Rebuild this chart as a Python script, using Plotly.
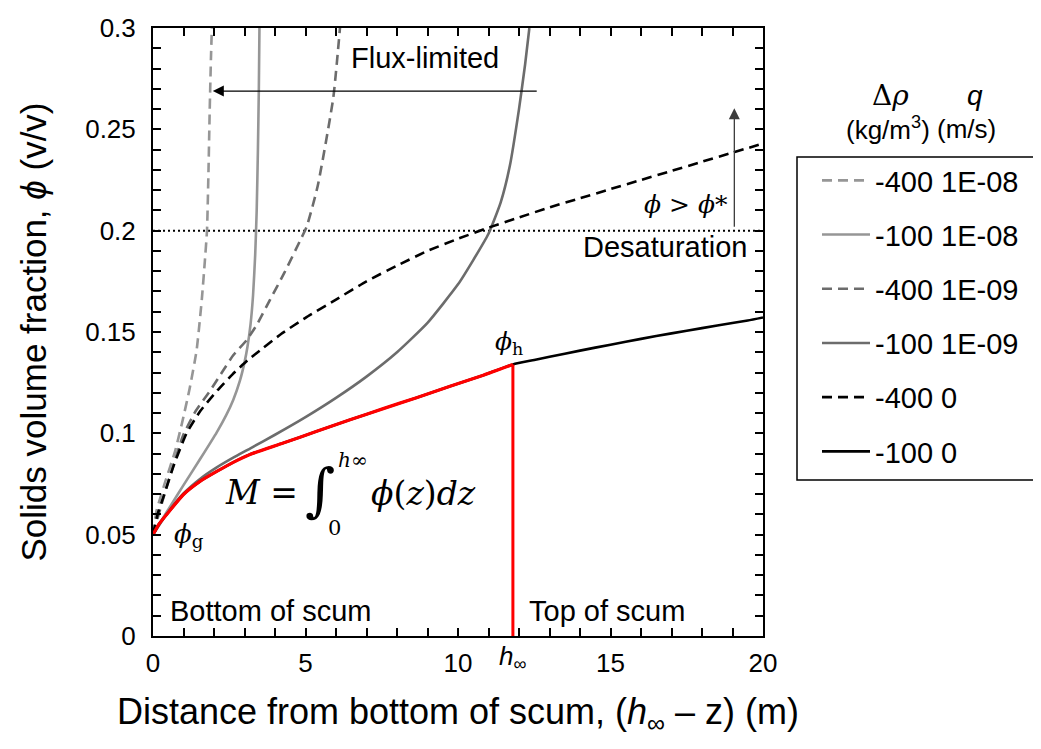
import plotly.graph_objects as go

# ---------------- data ----------------
# -100 kg/m3, q = 0  (black solid; red part up to h_inf)
x_m100_q0 = [0, 0.2, 0.45, 0.99, 1.54, 2.09, 2.63, 3.18, 4.27, 5.37, 6.46, 7.55, 8.64,
             9.74, 10.83, 11.8, 12.5, 13.5, 14.5, 15.5, 16.5, 17.5, 18.5, 19.5, 20]
y_m100_q0 = [0.05, 0.0553, 0.0600, 0.0697, 0.0763, 0.0812, 0.0857, 0.0896, 0.0952, 0.1010,
             0.1067, 0.1122, 0.1176, 0.1232, 0.1287, 0.1340, 0.1362, 0.1393, 0.1423, 0.1452,
             0.1480, 0.1506, 0.1532, 0.1557, 0.1572]

# -400 kg/m3, q = 0  (black dashed)
x_m400_q0 = [0, 0.15, 0.35, 0.7, 1.1, 1.55, 2.1, 2.6, 3.1, 3.6, 4.2, 5.0, 6.0, 7.0, 8.1,
             9.0, 10.0, 11.0, 12.0, 13.0, 14.0, 15.0, 16.0, 17.0, 18.0, 19.0, 20.0]
y_m400_q0 = [0.05, 0.060, 0.069, 0.085, 0.100, 0.111, 0.121, 0.129, 0.136, 0.142, 0.149,
             0.157, 0.166, 0.175, 0.1835, 0.190, 0.196, 0.2015, 0.2065, 0.2115, 0.216,
             0.2205, 0.225, 0.2295, 0.234, 0.2385, 0.2430]

# -100 kg/m3, q = 1E-09  (dark grey solid)
x_m100_q9 = [0, 0.45, 0.99, 1.54, 2.09, 2.63, 3.18, 4.0, 5.0, 6.0, 7.0, 8.0, 9.0, 10.0,
             10.5, 11.0, 11.4, 11.7, 12.0, 12.2, 12.34]
y_m100_q9 = [0.05, 0.0602, 0.0702, 0.0775, 0.0832, 0.0880, 0.0925, 0.0993, 0.1080, 0.1175,
             0.1280, 0.1400, 0.1545, 0.1735, 0.1855, 0.1985, 0.2140, 0.2320, 0.2600, 0.2820,
             0.3000]

# -400 kg/m3, q = 1E-09  (dark grey dashed)
x_m400_q9 = [0, 0.3, 0.6, 0.99, 1.4, 1.87, 2.3, 2.63, 3.07, 3.4, 3.84, 4.3, 4.82, 5.04,
             5.4, 5.91, 6.13]
y_m400_q9 = [0.05, 0.066, 0.081, 0.099, 0.111, 0.121, 0.131, 0.1385, 0.146, 0.1535, 0.166,
             0.179, 0.195, 0.202, 0.222, 0.2655, 0.300]

# -100 kg/m3, q = 1E-08  (light grey solid)
x_m100_q8 = [0, 0.3, 0.6, 0.99, 1.54, 2.09, 2.4, 2.63, 2.85, 3.0, 3.1, 3.2, 3.28, 3.35,
             3.40, 3.44, 3.47, 3.49]
y_m100_q8 = [0.05, 0.0575, 0.0648, 0.0742, 0.0872, 0.1005, 0.1090, 0.1165, 0.1260, 0.1350,
             0.1430, 0.1540, 0.1680, 0.1880, 0.2100, 0.2400, 0.2700, 0.3000]

# -400 kg/m3, q = 1E-08  (light grey dashed)
x_m400_q8 = [0, 0.12, 0.4, 0.72, 0.95, 1.2, 1.43, 1.6, 1.7, 1.77, 1.82, 1.86, 1.9, 1.93]
y_m400_q8 = [0.05, 0.062, 0.076, 0.091, 0.105, 0.122, 0.141, 0.166, 0.185, 0.200, 0.230,
             0.260, 0.285, 0.300]

legend_names = ["-400 1E-08", "-100 1E-08", "-400 1E-09", "-100 1E-09", "-400 0", "-100 0"]

h_inf = 11.8          # top of scum
phi_h = 0.1340        # phi at top of scum
phi_star = 0.2        # desaturation threshold
x_range = [0, 20]
y_range = [0, 0.3]

# ---------------- figure ----------------
SANS = "Arial, 'Liberation Sans', sans-serif"
SERIF = "'Cambria Math', 'DejaVu Serif', 'Liberation Serif', serif"
LIGHT = "rgb(150,150,150)"
DARK = "rgb(108,108,108)"
DASH = "10px,6px"

fig = go.Figure()

# desaturation threshold line
fig.add_trace(go.Scatter(x=x_range, y=[phi_star, phi_star], mode="lines",
                         line=dict(color="black", width=2, dash="2px,3px"),
                         showlegend=False, hoverinfo="skip"))

series = [
    (x_m400_q8, y_m400_q8, LIGHT, DASH),
    (x_m100_q8, y_m100_q8, LIGHT, "solid"),
    (x_m400_q9, y_m400_q9, DARK, DASH),
    (x_m100_q9, y_m100_q9, DARK, "solid"),
    (x_m400_q0, y_m400_q0, "black", DASH),
    (x_m100_q0, y_m100_q0, "black", "solid"),
]
for name, (xs, ys, col, dash) in zip(legend_names, series):
    fig.add_trace(go.Scatter(x=xs, y=ys, mode="lines", name=name, legendgroup=name,
                             line=dict(color=col, width=2.6, dash=dash, shape="spline",
                                       smoothing=0.5)))

# red portion of the -100/0 profile inside the scum, and the h_inf line
x_red = [x for x in x_m100_q0 if x <= h_inf]
y_red = [y for x, y in zip(x_m100_q0, y_m100_q0) if x <= h_inf]
fig.add_trace(go.Scatter(x=x_red, y=y_red, mode="lines", showlegend=False,
                         line=dict(color="rgb(255,0,0)", width=3.2, shape="spline", smoothing=0.5)))
fig.add_trace(go.Scatter(x=[h_inf, h_inf], y=[0, phi_h], mode="lines", showlegend=False,
                         line=dict(color="rgb(255,0,0)", width=3)))


def px2x(px):
    return (px - 153) / 30.5


def py2y(py):
    return (636 - py) / 2026.7


ann = []


def txt(text, px, py, size=29, family=SANS, xanchor="center", yanchor="middle"):
    ann.append(dict(text=text, x=px2x(px), y=py2y(py), xref="x", yref="y",
                    showarrow=False, xanchor=xanchor, yanchor=yanchor,
                    font=dict(size=size, family=family, color="black")))


txt("Flux-limited", 425, 58)
txt("Desaturation", 665, 247)
txt("<i>ϕ</i> &gt; <i>ϕ</i>*", 686, 204, size=25, family=SERIF)
txt("Bottom of scum", 270, 611)
txt("Top of scum", 607, 611)
txt("<i>ϕ</i><sub>h</sub>", 509, 343, size=25, family=SERIF)
txt("<i>ϕ</i><sub>g</sub>", 189, 535, size=26, family=SERIF)
# formula M = int_0^h_inf phi(z) dz
txt("<i>M</i> =", 300, 492, size=33, family=SERIF, xanchor="right")
txt("∫", 320, 490, size=58, family=SERIF)
txt("<i>h</i>∞", 353, 460, size=20, family=SERIF)
txt("0", 334, 528, size=21, family=SERIF)
txt("<i>ϕ</i>(<i>z</i>)<i>dz</i>", 369, 493, size=33, family=SERIF, xanchor="left")

# arrows
ann.append(dict(x=1.96, y=0.2689, ax=12.63, ay=0.2689, xref="x", yref="y",
                axref="x", ayref="y", text="", showarrow=True, arrowhead=2,
                arrowsize=1.7, arrowwidth=1.3, arrowcolor="black", standoff=0))
ann.append(dict(x=19.06, y=0.2604, ax=19.06, ay=0.2012, xref="x", yref="y",
                axref="x", ayref="y", text="", showarrow=True, arrowhead=2,
                arrowsize=1.7, arrowwidth=1.3, arrowcolor="rgb(60,60,60)", standoff=0))


def ppx(px):
    return (px - 153) / 610


def ppy(py):
    return (636 - py) / 608


# h_inf label under the x axis
ann.append(dict(text="<i>h</i><sub>∞</sub>", x=h_inf, y=ppy(657), xref="x", yref="paper",
                xanchor="center", yanchor="middle",
                showarrow=False, font=dict(size=26, family=SANS, color="black")))
# legend headers
for t, px, py, size, fam in [("Δ<i>ρ</i>", 890, 95, 28, SERIF),
                             ("<i>q</i>", 975, 95, 28, SANS),
                             ("(kg/m<sup>3</sup>)", 888, 129, 26, SANS),
                             ("(m/s)", 966, 129, 26, SANS)]:
    ann.append(dict(text=t, x=ppx(px), y=ppy(py), xref="paper", yref="paper",
                    xanchor="center", yanchor="middle",
                    showarrow=False, font=dict(size=size, family=fam, color="black")))

# legend frame
shapes = [dict(type="rect", xref="paper", yref="paper", x0=ppx(797), x1=ppx(1039),
               y0=ppy(480), y1=ppy(157), line=dict(color="black", width=1.5))]

axis_common = dict(showline=True, linecolor="black", linewidth=2, mirror="allticks",
                   ticks="inside", ticklen=8, tickwidth=2, tickcolor="black",
                   showgrid=False, zeroline=False,
                   tickfont=dict(size=26, family=SANS, color="black"))

# page has an 8px body margin: plot area ends up at x 153..763, y 28..636 in the window
fig.update_layout(
    width=1041, height=749, autosize=False,
    margin=dict(l=145, r=286, t=20, b=121, pad=0),
    paper_bgcolor="white", plot_bgcolor="white",
    font=dict(family=SANS, color="black"),
    xaxis=dict(range=x_range, dtick=5,
               minor=dict(dtick=1, ticks="inside", ticklen=8, tickwidth=2,
                          tickcolor="black"),
               ticklabelstandoff=3,
               title=dict(text="Distance from bottom of scum, (<i>h</i><sub>∞</sub> – z) (m)",
                          font=dict(size=36, family=SANS, color="black"), standoff=22),
               automargin=False, **axis_common),
    yaxis=dict(range=y_range, dtick=0.05,
               minor=dict(dtick=0.01, ticks="inside", ticklen=8, tickwidth=2,
                          tickcolor="black"),
               ticklabelstandoff=10,
               title=dict(text="Solids volume fraction, <i>ϕ</i> (v/v)",
                          font=dict(size=35, family=SANS, color="black"), standoff=28),
               automargin=False, **axis_common),
    legend=dict(x=ppx(817), y=ppy(155), xanchor="left", yanchor="top",
                font=dict(size=29, family=SANS, color="black"),
                bgcolor="rgba(0,0,0,0)", borderwidth=0, tracegroupgap=13.5, itemwidth=48),
    annotations=ann, shapes=shapes,
)

fig.write_html("out.html")
